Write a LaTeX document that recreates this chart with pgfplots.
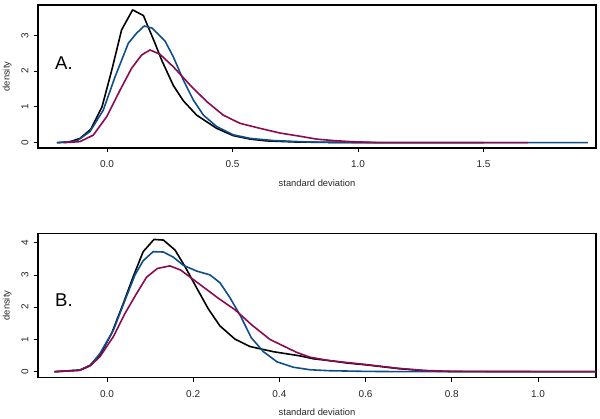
\documentclass[border=0pt]{standalone}
\usepackage{pgfplots}
\pgfplotsset{compat=1.18}
\usepackage{fontspec}
\setmainfont{Liberation Sans}
\definecolor{cblue}{HTML}{104E8B}
\definecolor{cmaroon}{HTML}{8B0A50}
\pgfplotsset{
  rstyle/.style={
    scale only axis,
    width=558bp,
    axis line style={line width=1.3bp},
    tick style={line width=0.8bp, black},
    tick align=outside,
    major tick length=4bp,
    tick pos=left,
    tick label style={font=\fontsize{10}{12}\selectfont, text=black!85, /pgf/number format/assume math mode=true},
    xticklabel style={anchor=center, /pgf/number format/.cd, fixed, fixed zerofill, precision=1},
    yticklabel style={rotate=90, anchor=center},
    xticklabel shift=12bp,
    yticklabel shift=9bp,
    label style={font=\fontsize{9.4}{11}\selectfont, text=black!85},
    ylabel style={at={(axis description cs:-0.055,0.5)}, anchor=center},
    every axis plot/.append style={line width=1.6bp, line join=round},
  }
}
\begin{document}
\begin{tikzpicture}
\useasboundingbox (0,0) rectangle (600bp,419bp);
\begin{axis}[rstyle,
  at={(38bp,271bp)}, anchor=south west, height=143bp,
  xmin=-0.275, xmax=1.948, ymin=-0.148, ymax=3.846,
  xtick={0,0.5,1,1.5}, ytick={0,1,2,3},
  xlabel={standard deviation}, ylabel={density},
  xlabel style={at={(axis description cs:0.5,-0.2448)}, anchor=center},
]
\addplot[black] coordinates {(-0.20,0)(-0.15,0.02)(-0.108,0.12)(-0.065,0.37)(-0.02,1.0)(0.019,2.03)(0.058,3.15)(0.102,3.71)(0.145,3.55)(0.191,2.78)(0.218,2.3)(0.264,1.6)(0.304,1.17)(0.357,0.77)(0.437,0.40)(0.502,0.2)(0.57,0.1)(0.636,0.05)(0.75,0.02)(0.9,0.005)(1.2,0)(1.5,0)};
\addplot[cblue] coordinates {(-0.20,0)(-0.12,0.05)(-0.068,0.31)(-0.015,0.91)(0.032,1.84)(0.085,2.78)(0.118,3.06)(0.148,3.26)(0.18,3.2)(0.231,2.84)(0.264,2.4)(0.304,1.75)(0.344,1.19)(0.384,0.77)(0.437,0.45)(0.503,0.22)(0.57,0.12)(0.663,0.06)(0.8,0.02)(1.0,0.005)(1.3,0)(1.916,0)};
\addplot[cmaroon] coordinates {(-0.174,0)(-0.108,0.03)(-0.055,0.21)(-0.001,0.73)(0.052,1.47)(0.098,2.08)(0.138,2.45)(0.171,2.59)(0.211,2.47)(0.264,2.12)(0.331,1.61)(0.397,1.15)(0.463,0.77)(0.53,0.54)(0.61,0.40)(0.689,0.27)(0.769,0.18)(0.835,0.1)(0.902,0.06)(0.968,0.03)(1.008,0.02)(1.09,0)(1.677,0)};
\end{axis}
\node[inner sep=0pt, anchor=west, font=\fontsize{18.6}{20}\selectfont] at (55bp,355.7bp) {A.};
\begin{axis}[rstyle,
  at={(38bp,41.3bp)}, anchor=south west, height=144.4bp,
  xmin=-0.16, xmax=1.1346, ymin=-0.186, ymax=4.29,
  xtick={0,0.2,0.4,0.6,0.8,1.0}, ytick={0,1,2,3,4},
  xlabel={standard deviation}, ylabel={density},
  xlabel style={at={(axis description cs:0.5,-0.2355)}, anchor=center},
]
\addplot[black] coordinates {(-0.122,0)(-0.063,0.05)(-0.039,0.2)(-0.016,0.52)(0.011,1.19)(0.038,2.12)(0.061,2.95)(0.084,3.72)(0.109,4.1)(0.131,4.08)(0.158,3.77)(0.181,3.26)(0.208,2.6)(0.235,1.95)(0.262,1.42)(0.297,1.01)(0.332,0.78)(0.386,0.62)(0.448,0.49)(0.479,0.40)(0.525,0.33)(0.556,0.27)(0.603,0.21)(0.68,0.09)(0.749,0.02)(0.8,0.005)(1.14,0)};
\addplot[cblue] coordinates {(-0.122,0)(-0.063,0.05)(-0.039,0.19)(-0.016,0.57)(0.015,1.29)(0.042,2.22)(0.065,3.0)(0.084,3.44)(0.107,3.72)(0.131,3.71)(0.154,3.55)(0.177,3.3)(0.208,3.12)(0.239,3.0)(0.262,2.76)(0.285,2.3)(0.309,1.75)(0.335,1.05)(0.363,0.62)(0.394,0.31)(0.432,0.14)(0.471,0.06)(0.517,0.03)(0.6,0.01)(0.7,0)(1.14,0)};
\addplot[cmaroon] coordinates {(-0.122,0)(-0.063,0.04)(-0.039,0.18)(-0.016,0.47)(0.015,1.09)(0.042,1.81)(0.069,2.43)(0.092,2.93)(0.117,3.2)(0.146,3.28)(0.171,3.15)(0.204,2.82)(0.231,2.55)(0.258,2.28)(0.297,1.92)(0.336,1.45)(0.378,1.0)(0.409,0.8)(0.44,0.6)(0.471,0.45)(0.517,0.34)(0.595,0.23)(0.672,0.11)(0.734,0.04)(0.8,0.01)(1.14,0)};
\end{axis}
\node[inner sep=0pt, anchor=west, font=\fontsize{18.6}{20}\selectfont] at (55bp,119bp) {B.};
\end{tikzpicture}
\end{document}
